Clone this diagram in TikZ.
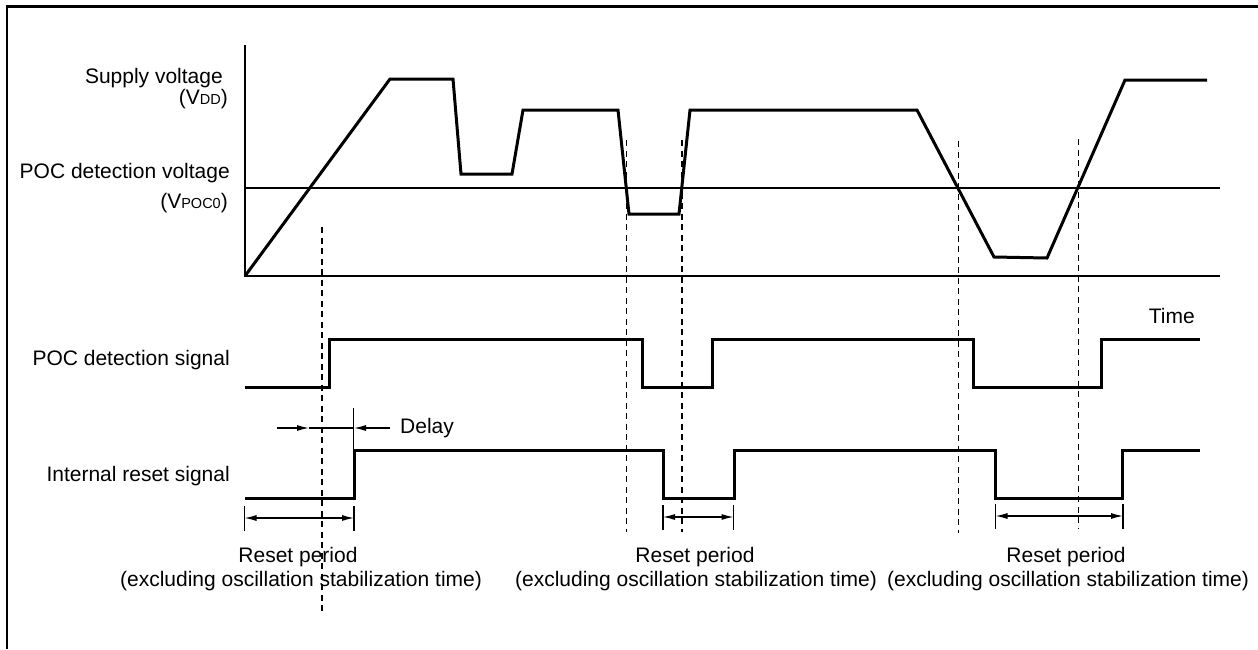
\documentclass[tikz,border=0pt]{standalone}
\usepackage{fontspec}
\setmainfont{Liberation Sans}
\usetikzlibrary{arrows.meta}
\newcommand{\lowsub}[1]{{\fontsize{14.5}{14.5}\selectfont #1}}
\begin{document}
\begin{tikzpicture}[x=1pt,y=-1pt,
  lbl/.style={inner sep=0pt,font=\fontsize{21}{24}\selectfont},
  wave/.style={line width=3pt,line join=miter},
  thinline/.style={line width=1.3pt},
  guide/.style={line width=1.2pt,dash pattern=on 6pt off 4.5pt},
  dim/.style={line width=1.2pt},
  tip/.style={-{Latex[length=12pt,width=6pt]}},
  tips/.style={{Latex[length=12pt,width=6pt]}-{Latex[length=12pt,width=6pt]}}
]
\useasboundingbox (0,0) rectangle (1258,649);
% frame
\draw[line width=2.8pt] (7,649) -- (7,6.5) -- (1258,6.5);

% axes
\draw[thinline] (245,45) -- (245,276) -- (1220,276);
\draw[thinline] (245,188) -- (1220,188);

% supply voltage waveform
\draw[wave] (245,276) -- (390,79) -- (453,79) -- (461,174) -- (512,174) -- (523,110)
  -- (618,110) -- (629,214) -- (679,214) -- (690,110) -- (917,110) -- (994,257)
  -- (1047,258) -- (1125,80) -- (1207,80);

% POC detection signal
\draw[wave] (245,387) -- (329,387) -- (329,339) -- (642,339) -- (642,387) -- (712,387)
  -- (712,339) -- (973,339) -- (973,387) -- (1101,387) -- (1101,339) -- (1200,339);

% internal reset signal
\draw[wave] (245,498) -- (354,498) -- (354,450) -- (663,450) -- (663,498) -- (734,498)
  -- (734,450) -- (995,450) -- (995,498) -- (1122,498) -- (1122,450) -- (1200,450);

% dashed guides
\draw[guide] (322,227) -- (322,614);
\draw[guide] (626.5,140) -- (626.5,532);
\draw[guide] (682,140) -- (682,532);
\draw[guide] (958.5,141) -- (958.5,533);
\draw[guide] (1078.5,139) -- (1078.5,529);

% labels
\node[lbl,anchor=base east] (sv) at (223,83) {Supply voltage};
\node[lbl,anchor=base east] (vdd) at (228,104) {(V\lowsub{DD})};
\node[lbl,anchor=base east] (pdv) at (230,178) {POC detection voltage};
\node[lbl,anchor=base east] (vpoc) at (228,208) {(V\lowsub{POC0})};
\node[lbl,anchor=base east] (pds) at (230,365) {POC detection signal};
\node[lbl,anchor=base east] (irs) at (230,481) {Internal reset signal};
\node[lbl,anchor=base east] (time) at (1195,323) {Time};
\node[lbl,anchor=base west] (delay) at (400,433) {Delay};

% delay annotation
\coordinate (dl0) at (277,428);
\coordinate (dl1) at (309,428);
\coordinate (dr0) at (390,428);
\coordinate (dr1) at (354,428);
\coordinate (dt0) at (353.5,408);
\coordinate (dt1) at (353.5,450);
\draw[dim] (dt0) -- (dt1);
\draw[dim,tip] (dl0) -- (dl1);
\draw[dim] (dl1) -- (dr1);
\draw[dim,tip] (dr0) -- (dr1);

% reset periods
\coordinate (r1a) at (244.5,518); \coordinate (r1b) at (354,518);
\coordinate (r2a) at (663,517);   \coordinate (r2b) at (733.5,517);
\coordinate (r3a) at (995.5,516); \coordinate (r3b) at (1123,516);
\foreach \p in {r1a,r1b,r2a,r2b,r3a,r3b}{
  \draw[dim] ([yshift=-13pt]\p) -- ([yshift=12pt]\p);
}
\draw[dim,tips] (r1a) -- (r1b);
\draw[dim,tips] (r2a) -- (r2b);
\draw[dim,tips] (r3a) -- (r3b);

\node[lbl,anchor=base] (rp1) at (298,562) {Reset period};
\node[lbl,anchor=base] (ex1) at (301,586) {(excluding oscillation stabilization time)};
\node[lbl,anchor=base] (rp2) at (695,562) {Reset period};
\node[lbl,anchor=base] (ex2) at (696,586) {(excluding oscillation stabilization time)};
\node[lbl,anchor=base] (rp3) at (1066,562) {Reset period};
\node[lbl,anchor=base] (ex3) at (1068,586) {(excluding oscillation stabilization time)};
\end{tikzpicture}
\end{document}
